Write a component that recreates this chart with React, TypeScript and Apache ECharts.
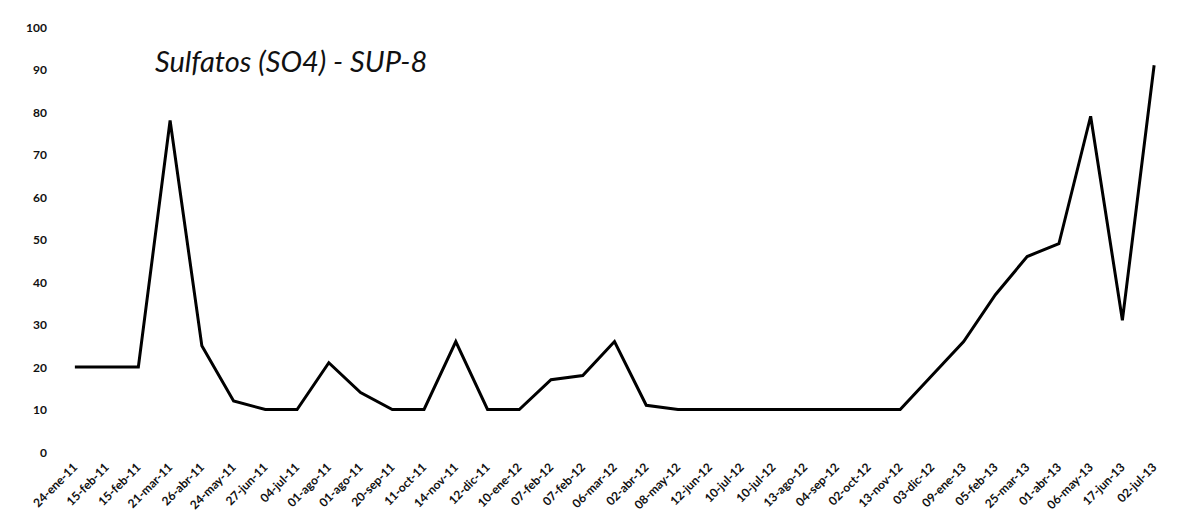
import React, { useEffect, useRef } from "react";
import * as echarts from "echarts";

const categories = [
  "24-ene-11", "15-feb-11", "15-feb-11", "21-mar-11", "26-abr-11", "24-may-11",
  "27-jun-11", "04-jul-11", "01-ago-11", "01-ago-11", "20-sep-11", "11-oct-11",
  "14-nov-11", "12-dic-11", "10-ene-12", "07-feb-12", "07-feb-12", "06-mar-12",
  "02-abr-12", "08-may-12", "12-jun-12", "10-jul-12", "10-jul-12", "13-ago-12",
  "04-sep-12", "02-oct-12", "13-nov-12", "03-dic-12", "09-ene-13", "05-feb-13",
  "25-mar-13", "01-abr-13", "06-may-13", "17-jun-13", "02-jul-13",
];

const sulfatos = [
  20, 20, 20, 78, 25, 12,
  10, 10, 21, 14, 10, 10,
  26, 10, 10, 17, 18, 26,
  11, 10, 10, 10, 10, 10,
  10, 10, 10, 18, 26, 37,
  46, 49, 79, 31, 91,
];

const titleText = "Sulfatos (SO4) - SUP-8";
const yTicks = { min: 0, max: 100, interval: 10 };

export default function App() {
  const ref = useRef<HTMLDivElement>(null);
  useEffect(() => {
    if (!ref.current) return;
    const chart = echarts.init(ref.current, undefined, { renderer: "svg" });
    chart.setOption({
      animation: false,
      backgroundColor: "#ffffff",
      title: {
        text: titleText,
        left: 150,
        top: 41,
        textStyle: {
          fontFamily: "Lato, 'Open Sans', sans-serif",
          fontStyle: "italic",
          fontWeight: "normal",
          fontSize: 29,
          color: "#111111",
        },
      },
      grid: { left: 59, right: 12, top: 27, bottom: 66 },
      xAxis: {
        type: "category",
        data: categories,
        boundaryGap: true,
        axisLine: { show: false },
        axisTick: { show: false },
        axisLabel: {
          interval: 0,
          rotate: 45,
          margin: 13,
          fontFamily: "Lato, 'Open Sans', sans-serif",
          fontSize: 12,
          fontWeight: "bold",
          color: "#111111",
        },
        splitLine: { show: false },
      },
      yAxis: {
        type: "value",
        min: yTicks.min,
        max: yTicks.max,
        interval: yTicks.interval,
        axisLine: { show: false },
        axisTick: { show: false },
        splitLine: { show: false },
        axisLabel: {
          margin: 12,
          fontFamily: "Lato, 'Open Sans', sans-serif",
          fontSize: 12,
          fontWeight: "bold",
          color: "#111111",
        },
      },
      series: [
        {
          type: "line",
          data: sulfatos,
          showSymbol: false,
          symbol: "none",
          lineStyle: { color: "#000000", width: 3, join: "miter" },
        },
      ],
    });
    return () => chart.dispose();
  }, []);
  return (
    <div
      ref={ref}
      style={{ position: "absolute", left: 0, top: 0, width: 1182, height: 518 }}
    />
  );
}
